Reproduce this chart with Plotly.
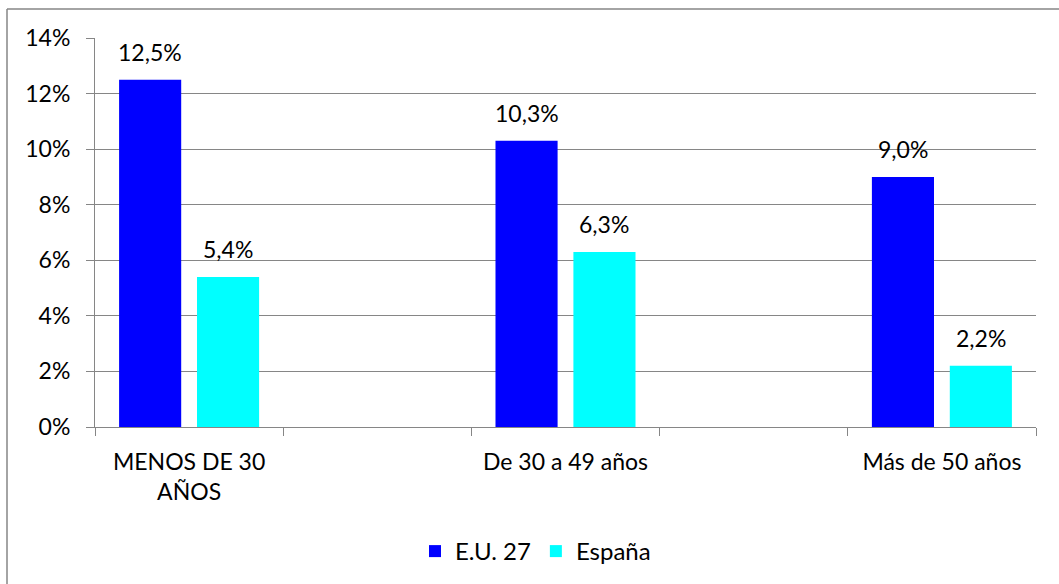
import plotly.graph_objects as go

# Age groups and the two series (percent)
categories = ["MENOS DE 30<br>AÑOS", "De 30 a 49 años", "Más de 50 años"]
eu27 = [12.5, 10.3, 9.0]
espana = [5.4, 6.3, 2.2]
series_names = ["E.U. 27", "España"]

# Age groups sit in every other slot of a five-slot axis
positions = [0, 2, 4]

FONT = "Lato"
GREY = "#868686"
BAR_W = 0.33
OFFSETS = [-0.372, 0.042]
COLORS = ["#0000FF", "#00FFFF"]

W, H = 1059, 584
M_L, M_R, M_T, M_B = 95, 23, 38, 157
PW, PH = W - M_L - M_R, H - M_T - M_B


def px_x(px):
    return (px - M_L) / PW


def px_y(py):
    return (H - M_B - py) / PH


fig = go.Figure()
annotations = []
for name, vals, off, col in zip(series_names, [eu27, espana], OFFSETS, COLORS):
    fig.add_trace(go.Bar(
        x=positions, y=vals, name=name,
        width=BAR_W, offset=off,
        marker=dict(color=col, line=dict(width=0)),
        hoverinfo="skip",
    ))
    for p, v in zip(positions, vals):
        annotations.append(dict(
            x=p + off + BAR_W / 2, y=v, xref="x", yref="y",
            text=f"{v:.1f}%".replace(".", ","),
            showarrow=False, yanchor="bottom", yshift=12,
            font=dict(family=FONT, size=23, color="black"),
        ))

# Chart frame (left and top edges)
shapes = [
    dict(type="line", xref="paper", yref="paper",
         x0=px_x(7), x1=px_x(1070), y0=px_y(9), y1=px_y(9),
         line=dict(color=GREY, width=1.5)),
    dict(type="line", xref="paper", yref="paper",
         x0=px_x(7), x1=px_x(7), y0=px_y(9), y1=px_y(600),
         line=dict(color=GREY, width=1.5)),
]

fig.update_layout(
    width=W, height=H,
    margin=dict(l=M_L, r=M_R, t=M_T, b=M_B, autoexpand=False),
    paper_bgcolor="white", plot_bgcolor="white",
    separators=",.",
    font=dict(family=FONT, size=23, color="black"),
    barmode="overlay",
    showlegend=True,
    legend=dict(
        orientation="h", x=px_x(415), y=px_y(529), xanchor="left", yanchor="top",
        font=dict(family=FONT, size=24, color="black"),
        itemwidth=30, traceorder="normal",
    ),
    annotations=annotations,
    shapes=shapes,
)

fig.update_xaxes(
    range=[-0.5, 4.5],
    tickmode="array", tickvals=positions, ticktext=categories,
    ticks="", ticklabelstandoff=14,
    showline=True, linecolor=GREY, linewidth=1,
    showgrid=False, zeroline=False,
    minor=dict(tickmode="array", tickvals=[-0.5, 0.5, 1.5, 2.5, 3.5, 4.5],
               ticks="outside", ticklen=8, tickcolor=GREY, tickwidth=1,
               showgrid=False),
    fixedrange=True,
)
fig.update_yaxes(
    range=[0, 14], tickmode="linear", tick0=0, dtick=2,
    ticksuffix="%", tickformat="d",
    ticks="outside", ticklen=8, tickcolor=GREY, tickwidth=1,
    ticklabelstandoff=11,
    showline=True, linecolor=GREY, linewidth=1,
    showgrid=True, gridcolor=GREY, gridwidth=1,
    zeroline=False,
    fixedrange=True,
)

fig.write_html("out.html")
